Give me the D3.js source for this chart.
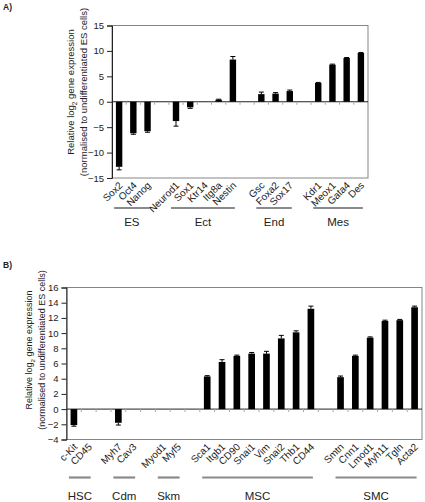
<!DOCTYPE html>
<html><head><meta charset="utf-8">
<script src="https://cdn.jsdelivr.net/npm/d3@7"></script>
<style>
html,body{margin:0;padding:0;background:#fff;}
svg{display:block;font-family:"Liberation Sans",Arial,sans-serif;}
</style></head>
<body><svg id="c" width="425" height="502"></svg>
<script>
// ---------- Panel A data ----------
const catsA = ["Sox2","Oct4","Nanog","","Neurod1","Sox1","Ktr14","Itg8a","Nestin","","Gsc","Foxa2","Sox17","","Kdr1","Meox1","Gata4","Des"];
const valsA = [-12.8,-6.2,-5.8,null,-3.8,-1.1,0,0.4,8.3,null,1.5,1.6,2.1,null,3.7,7.3,8.6,9.6];
const errA  = [0.6,0.2,0.2,null,1.0,0.2,0,0.1,0.6,null,0.4,0.2,0.2,null,0.1,0.1,0.1,0.1];
const ticksA = [-15,-10,-5,0,5,10,15];
const groupsA = [["ES","Sox2","Nanog"],["Ect","Neurod1","Nestin"],["End","Gsc","Sox17"],["Mes","Kdr1","Des"]];

// ---------- Panel B data ----------
const catsB = ["c-Kit","CD45","","Myh7","Cav3","","Myod1","Myf5","","Sca1","Itgb1","CD90","Snai1","Vim","Snai2","Thb1","CD44","","Smtn","Cnn1","Lmod1","Myh11","Tgln","Acta2"];
const valsB = [-2.1,0,null,-1.8,0,null,0,0,null,4.3,6.2,7.0,7.3,7.3,9.3,10.1,13.2,null,4.2,7.0,9.4,11.6,11.7,13.4];
const errB  = [0.15,0,null,0.3,0,null,0,0,null,0.1,0.3,0.1,0.15,0.3,0.4,0.2,0.35,null,0.15,0.1,0.1,0.1,0.1,0.15];
const ticksB = [-4,-2,0,2,4,6,8,10,12,14,16];
const groupsB = [["HSC","c-Kit","CD45"],["Cdm","Myh7","Cav3"],["Skm","Myod1","Myf5"],["MSC","Sca1","CD44"],["SMC","Smtn","Acta2"]];

const svg = d3.select("#c");

function panel(cfg){
  const {cats, vals, errs, ticks, groups, left, right, top, bottom, ymin, ymax, titleX, titleMid, titleSize, lineY, labelY, letter, letterY} = cfg;
  const g = svg.append("g");
  const idx = d3.range(cats.length);
  const x = d3.scaleBand().domain(idx).range([left,right]).padding(0);
  const y = d3.scaleLinear().domain([ymin,ymax]).range([bottom,top]);
  const bw = x.bandwidth()*0.45;
  const cx = i => x(i)+x.bandwidth()/2;

  // frame
  g.append("rect").attr("x",left).attr("y",top).attr("width",right-left).attr("height",bottom-top)
    .attr("fill","none").attr("stroke","#858585").attr("stroke-width",1);

  // y axis
  const ya = d3.axisLeft(y).tickValues(ticks).tickSize(5).tickPadding(3).tickFormat(d3.format("d"));
  const yg = g.append("g").attr("transform",`translate(${left},0)`).call(ya);
  yg.select(".domain").attr("stroke","#222");
  yg.selectAll(".tick line").attr("stroke","#222");
  yg.selectAll("text").attr("font-size","9.5px").attr("fill","#222").attr("font-family","Liberation Sans, Arial, sans-serif");

  // zero axis with category ticks
  g.append("line").attr("x1",left).attr("x2",right).attr("y1",y(0)).attr("y2",y(0)).attr("stroke","#222");
  g.selectAll(".ctick").data(d3.range(1,cats.length)).enter().append("line")
    .attr("x1",i=>x(i)).attr("x2",i=>x(i)).attr("y1",y(0)).attr("y2",y(0)+3)
    .attr("stroke","#aaa");

  // bars
  const data = idx.filter(i=>vals[i]!==null && vals[i]!==0);
  g.selectAll(".bar").data(data).enter().append("rect")
    .attr("x",i=>cx(i)-bw/2).attr("width",bw)
    .attr("y",i=>y(Math.max(0,vals[i]))).attr("height",i=>Math.abs(y(vals[i])-y(0)))
    .attr("fill","#000");
  // error bars
  const ed = data.filter(i=>errs[i]>0);
  const eEnd = i => vals[i]>=0 ? vals[i]+errs[i] : vals[i]-errs[i];
  g.selectAll(".ev").data(ed).enter().append("line")
    .attr("x1",cx).attr("x2",cx).attr("y1",i=>y(vals[i])).attr("y2",i=>y(eEnd(i)))
    .attr("stroke","#000").attr("stroke-width",1);
  g.selectAll(".ec").data(ed).enter().append("line")
    .attr("x1",i=>cx(i)-2.5).attr("x2",i=>cx(i)+2.5).attr("y1",i=>y(eEnd(i))).attr("y2",i=>y(eEnd(i)))
    .attr("stroke","#000").attr("stroke-width",1);

  // category labels
  g.selectAll(".cl").data(idx.filter(i=>cats[i]!=="")).enter().append("text")
    .attr("transform",i=>`translate(${cx(i)+4},${bottom+8}) rotate(-45)`)
    .attr("text-anchor","end").attr("font-size","10px").attr("fill","#222")
    .text(i=>cats[i]);

  // group lines & labels
  groups.forEach(([name,a,b])=>{
    const ia = cats.indexOf(a), ib = cats.indexOf(b);
    const x1 = cx(ia)-5, x2 = cx(ib)+2;
    g.append("line").attr("x1",x1).attr("x2",x2).attr("y1",lineY).attr("y2",lineY)
      .attr("stroke","#8a8a8a").attr("stroke-width",2.2);
    g.append("text").attr("x",(x1+x2)/2).attr("y",labelY).attr("text-anchor","middle")
      .attr("font-size","11.5px").attr("fill","#222").text(name);
  });

  // y title
  const t = g.append("text").attr("transform",`translate(${titleX},${titleMid}) rotate(-90)`)
    .attr("text-anchor","middle").attr("font-size",titleSize+"px").attr("fill","#222");
  t.append("tspan").text("Relative log");
  t.append("tspan").attr("font-size",(titleSize*0.68)+"px").attr("dy","2.5").text("2");
  t.append("tspan").attr("dy","-2.5").text(" gene expression");
  g.append("text").attr("transform",`translate(${titleX+12.5},${titleMid}) rotate(-90)`)
    .attr("text-anchor","middle").attr("font-size",titleSize+"px").attr("fill","#222")
    .text("(normalised to undifferentiated ES cells)");

  g.append("text").attr("x",3).attr("y",letterY).attr("font-size","8.5px").attr("font-weight","bold")
    .attr("fill","#222").text(letter);
}

panel({cats:catsA, vals:valsA, errs:errA, ticks:ticksA, groups:groupsA,
  left:112, right:368, top:25.5, bottom:178, ymin:-15, ymax:15,
  titleX:74, titleMid:92, titleSize:9.5, lineY:208, labelY:226, letter:"A)", letterY:10});
panel({cats:catsB, vals:valsB, errs:errB, ticks:ticksB, groups:groupsB,
  left:66.5, right:422, top:287.5, bottom:439.5, ymin:-4, ymax:16,
  titleX:32, titleMid:350, titleSize:9, lineY:477.5, labelY:500, letter:"B)", letterY:268});
</script></body></html>
